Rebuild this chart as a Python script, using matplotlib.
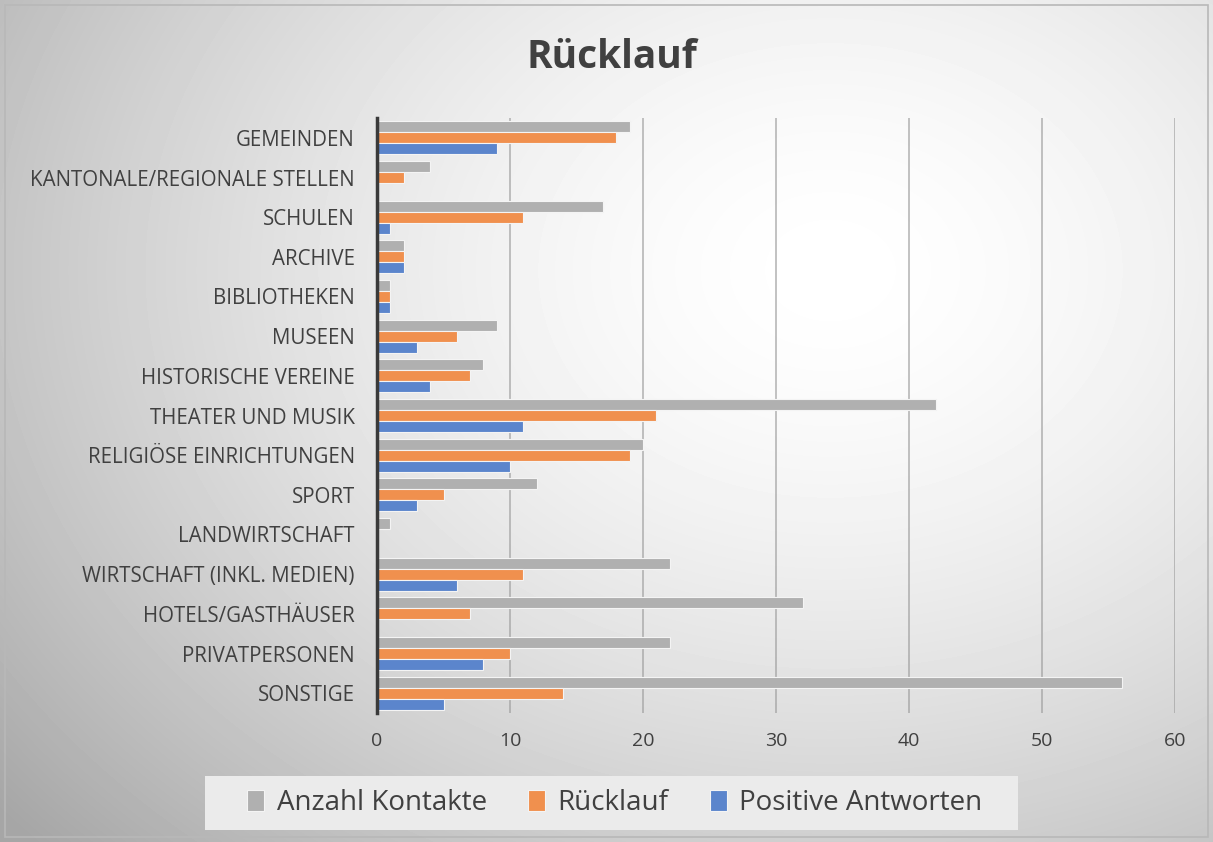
import numpy as np
import matplotlib.pyplot as plt
from matplotlib.patches import Rectangle

categories = ['GEMEINDEN', 'KANTONALE/REGIONALE STELLEN', 'SCHULEN', 'ARCHIVE',
              'BIBLIOTHEKEN', 'MUSEEN', 'HISTORISCHE VEREINE', 'THEATER UND MUSIK',
              'RELIGIÖSE EINRICHTUNGEN', 'SPORT', 'LANDWIRTSCHAFT',
              'WIRTSCHAFT (INKL. MEDIEN)', 'HOTELS/GASTHÄUSER', 'PRIVATPERSONEN', 'SONSTIGE']
kontakte = [19, 4, 17, 2, 1, 9, 8, 42, 20, 12, 1, 22, 32, 22, 56]
ruecklauf = [18, 2, 11, 2, 1, 6, 7, 21, 19, 5, 0, 11, 7, 10, 14]
positiv = [9, 0, 1, 2, 1, 3, 4, 11, 10, 3, 0, 6, 0, 8, 5]

plt.rcParams['font.family'] = ['Open Sans', 'DejaVu Sans']
txt = '#404040'

fig = plt.figure(figsize=(12.13, 8.42), dpi=100)

# radial gradient background
bg = fig.add_axes([0, 0, 1, 1])
bg.set_axis_off()
yy, xx = np.mgrid[0:842, 0:1213]
d = np.sqrt(((xx - 830) / 900.0) ** 2 + ((yy - 270) / 700.0) ** 2)
shade = 1.0 - 0.26 * np.clip(d, 0, 1.2) ** 1.6
bg.imshow(shade, cmap='gray', vmin=0, vmax=1, aspect='auto', extent=[0, 1, 0, 1])
bg.set_xlim(0, 1)
bg.set_ylim(0, 1)
bg.add_patch(Rectangle((5 / 1213, 5 / 842), 1203 / 1213, 832 / 842, fill=False,
                       edgecolor='#b8b8b8', lw=1.2))
# legend box
bg.add_patch(Rectangle((205 / 1213, 1 - 830 / 842), 813 / 1213, 54 / 842,
                       facecolor='#ebebeb', edgecolor='none'))

ax = fig.add_axes([377 / 1213, 1 - 713 / 842, 798 / 1213, 595 / 842])
ax.patch.set_alpha(0)

n = len(categories)
y = np.arange(n)
h = 0.28
series = [(kontakte, '#b0b0b0', 'Anzahl Kontakte', -h),
          (ruecklauf, '#f0904e', 'Rücklauf', 0),
          (positiv, '#5b85cc', 'Positive Antworten', h)]
for vals, col, lab, off in series:
    ax.barh(y + off, vals, height=h, color=col, edgecolor='#f4f4f4', lw=0.8,
            label=lab, zorder=3)

ax.set_ylim(n - 0.5, -0.5)
ax.set_xlim(0, 60)
ax.set_xticks(np.arange(0, 61, 10))
ax.set_yticks(y)
ax.set_yticklabels(categories)
ax.grid(axis='x', color='#9a9a9a', alpha=0.7, lw=1.2, zorder=0)
for s in ['top', 'right', 'bottom']:
    ax.spines[s].set_visible(False)
ax.spines['left'].set_color('#3a3a3a')
ax.spines['left'].set_linewidth(2.5)
ax.spines['left'].set_zorder(4)
ax.tick_params(axis='both', length=0, colors=txt)
ax.tick_params(axis='y', pad=16, labelsize=14.8)
ax.tick_params(axis='x', pad=14, labelsize=14)

fig.text(612 / 1213, 1 - 58 / 842, 'Rücklauf', ha='center', va='center',
         fontsize=28, fontweight='bold', color=txt)

handles, labels = ax.get_legend_handles_labels()
fig.legend(handles, labels, loc='center', bbox_to_anchor=(615 / 1213, 1 - 803 / 842),
           ncol=3, frameon=False, fontsize=20, labelcolor=txt, handlelength=0.6,
           handleheight=0.8, columnspacing=1.5, handletextpad=0.45)

fig.savefig('out.png', dpi=100)
